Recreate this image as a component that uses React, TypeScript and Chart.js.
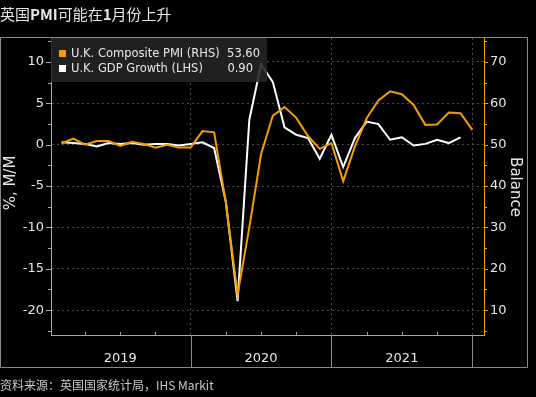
import React, { useEffect, useRef } from 'react';
import { Chart, registerables } from 'chart.js';

Chart.register(...registerables);

// ---------- data ----------
const TITLE_PARTS = [
  { t: '英国', bold: false },
  { t: 'PMI', bold: true },
  { t: '可能在', bold: false },
  { t: '1', bold: true },
  { t: '月份上升', bold: false },
];
const SOURCE = '资料来源：英国国家统计局，IHS Markit';

const PMI_MONTHS = [
  '2019-01', '2019-02', '2019-03', '2019-04', '2019-05', '2019-06', '2019-07', '2019-08', '2019-09', '2019-10', '2019-11', '2019-12',
  '2020-01', '2020-02', '2020-03', '2020-04', '2020-05', '2020-06', '2020-07', '2020-08', '2020-09', '2020-10', '2020-11', '2020-12',
  '2021-01', '2021-02', '2021-03', '2021-04', '2021-05', '2021-06', '2021-07', '2021-08', '2021-09', '2021-10', '2021-11', '2021-12',
];
const PMI_VALUES = [
  50.3, 51.5, 50.0, 50.9, 50.9, 49.7, 50.7, 50.2, 49.3, 50.0, 49.3, 49.3,
  53.3, 53.0, 36.0, 13.8, 30.0, 47.7, 57.0, 59.1, 56.5, 52.1, 49.0, 50.4,
  41.2, 49.6, 56.4, 60.7, 62.9, 62.2, 59.6, 54.8, 54.9, 57.8, 57.6, 53.6,
];

const GDP_MONTHS = [
  '2019-01', '2019-02', '2019-03', '2019-04', '2019-05', '2019-06', '2019-07', '2019-08', '2019-09', '2019-10', '2019-11', '2019-12',
  '2020-01', '2020-02', '2020-03', '2020-04', '2020-05', '2020-06', '2020-07', '2020-08', '2020-09', '2020-10', '2020-11', '2020-12',
  '2021-01', '2021-02', '2021-03', '2021-04', '2021-05', '2021-06', '2021-07', '2021-08', '2021-09', '2021-10', '2021-11',
];
const GDP_VALUES = [
  0.3, 0.2, 0.1, -0.2, 0.2, 0.1, 0.2, 0.0, 0.1, 0.1, -0.1, 0.1,
  0.3, -0.4, -6.9, -18.9, 3.0, 9.7, 7.6, 2.1, 1.2, 0.8, -1.7, 1.2,
  -2.7, 0.8, 2.8, 2.5, 0.6, 0.9, -0.1, 0.1, 0.6, 0.2, 0.9,
];

const LEGEND_NAMES = ['U.K. Composite PMI (RHS)', 'U.K. GDP Growth (LHS)'];
const LEGEND_VALUES = ['53.60', '0.90'];
const LEFT_TITLE = '%, M/M';
const RIGHT_TITLE = 'Balance';

const YEAR_LABELS = ['2019', '2020', '2021'];
const LHS_TICKS = [-20, -15, -10, -5, 0, 5, 10];
const RHS_TICKS = [10, 20, 30, 40, 50, 60, 70];

// ---------- style ----------
const ORANGE = '#f59c00';
const WHITE = '#ffffff';
const AXIS_GRAY = '#a8a8a8';
const FRAME_GRAY = '#8a8a8a';
const GRID = '#4a4a4a';
const FONT = '"DejaVu Sans", sans-serif';
const CJK = '"Noto Sans CJK SC", sans-serif';

// month "YYYY-MM" -> month-end position (months since start of 2019)
const monthPos = (m: string) => {
  const [y, mo] = m.split('-').map(Number);
  return (y - 2019) * 12 + mo;
};

const framePlugin = {
  id: 'framePlugin',
  beforeDraw(chart: any) {
    const { ctx, width, height } = chart;
    ctx.save();
    ctx.fillStyle = '#000';
    ctx.fillRect(0, 0, width, height);
    ctx.restore();
  },
  afterDatasetsDraw(chart: any) {
    const { ctx, chartArea } = chart;
    const x = chart.scales.x;
    const y = chart.scales.y;
    const y1 = chart.scales.y1;
    ctx.save();

    // frame
    ctx.strokeStyle = FRAME_GRAY;
    ctx.lineWidth = 1;
    ctx.beginPath();
    ctx.moveTo(0.5, 37.5);
    ctx.lineTo(527.5, 37.5);
    ctx.lineTo(527.5, 367.5);
    ctx.lineTo(0.5, 367.5);
    ctx.closePath();
    ctx.stroke();

    // year band separators
    ctx.strokeStyle = FRAME_GRAY;
    [12, 24, 36].forEach((v) => {
      const px = Math.round(x.getPixelForValue(v)) + 0.5;
      ctx.beginPath();
      ctx.moveTo(px, chartArea.bottom);
      ctx.lineTo(px, 367.5);
      ctx.stroke();
    });

    // left axis ticks
    ctx.strokeStyle = AXIS_GRAY;
    for (let v = -22.5; v <= 12.5; v += 2.5) {
      const py = Math.round(y.getPixelForValue(v)) + 0.5;
      const major = v % 5 === 0;
      ctx.beginPath();
      ctx.moveTo(chartArea.left - (major ? 5 : 3), py);
      ctx.lineTo(chartArea.left, py);
      ctx.stroke();
    }
    // right axis ticks
    ctx.strokeStyle = ORANGE;
    for (let v = 5; v <= 75; v += 5) {
      const py = Math.round(y1.getPixelForValue(v)) + 0.5;
      const major = v % 10 === 0;
      ctx.beginPath();
      ctx.moveTo(chartArea.right, py);
      ctx.lineTo(chartArea.right + (major ? 4 : 3), py);
      ctx.stroke();
    }
    // bottom quarterly ticks
    ctx.strokeStyle = AXIS_GRAY;
    for (let v = 3; v <= 36; v += 3) {
      if (v % 12 === 0) continue;
      const px = Math.round(x.getPixelForValue(v)) + 0.5;
      ctx.beginPath();
      ctx.moveTo(px, chartArea.bottom);
      ctx.lineTo(px, chartArea.bottom - 3);
      ctx.stroke();
    }

    // legend box
    ctx.fillStyle = 'rgba(36,36,36,0.88)';
    ctx.fillRect(chartArea.left, chartArea.top, 216, 44);
    ctx.font = `11.5px ${FONT}`;
    ctx.textBaseline = 'middle';
    const rows = [
      { c: ORANGE, y: 54, vx: 260 },
      { c: WHITE, y: 69, vx: 253 },
    ];
    rows.forEach((r, i) => {
      ctx.fillStyle = r.c;
      ctx.fillRect(59, r.y - 4, 7, 7);
      ctx.fillStyle = '#e8e8e8';
      ctx.textAlign = 'left';
      ctx.fillText(LEGEND_NAMES[i], 71, r.y);
      ctx.textAlign = 'right';
      ctx.fillText(LEGEND_VALUES[i], r.vx, r.y);
    });

    ctx.restore();
  },
  afterDraw(chart: any) {
    const { ctx } = chart;
    ctx.save();
    // title
    ctx.textBaseline = 'middle';
    ctx.textAlign = 'left';
    ctx.fillStyle = '#e6e6e6';
    let tx = 0;
    TITLE_PARTS.forEach((p) => {
      ctx.font = `${p.bold ? 'bold ' : ''}15px ${CJK}`;
      ctx.fillText(p.t, tx, 14);
      tx += ctx.measureText(p.t).width;
    });
    // source
    ctx.font = `12px ${CJK}`;
    ctx.fillStyle = '#c8c8c8';
    ctx.fillText(SOURCE, 0, 385);

    // axis titles
    ctx.fillStyle = '#e6e6e6';
    ctx.font = `15px ${FONT}`;
    ctx.textAlign = 'center';
    ctx.save();
    ctx.translate(11, 183);
    ctx.rotate(-Math.PI / 2);
    ctx.fillText(LEFT_TITLE, 0, 0);
    ctx.restore();
    ctx.save();
    ctx.translate(515, 187);
    ctx.rotate(Math.PI / 2);
    ctx.fillText(RIGHT_TITLE, 0, 0);
    ctx.restore();

    ctx.restore();
  },
};

export default function App() {
  const ref = useRef<HTMLCanvasElement | null>(null);

  useEffect(() => {
    document.body.style.margin = '0';
    document.body.style.background = '#000';
    if (!ref.current) return;
    const chart = new Chart(ref.current, {
      type: 'line',
      data: {
        datasets: [
          {
            label: LEGEND_NAMES[0],
            data: PMI_MONTHS.map((m, i) => ({ x: monthPos(m), y: PMI_VALUES[i] })),
            borderColor: ORANGE,
            borderWidth: 2,
            pointRadius: 0,
            tension: 0,
            yAxisID: 'y1',
          },
          {
            label: LEGEND_NAMES[1],
            data: GDP_MONTHS.map((m, i) => ({ x: monthPos(m), y: GDP_VALUES[i] })),
            borderColor: WHITE,
            borderWidth: 2,
            pointRadius: 0,
            tension: 0,
            yAxisID: 'y',
          },
        ],
      },
      options: {
        responsive: false,
        animation: false,
        devicePixelRatio: 1,
        layout: { padding: { top: 38, left: 0, right: 0, bottom: 0 } },
        plugins: { legend: { display: false }, tooltip: { enabled: false }, title: { display: false } },
        scales: {
          x: {
            type: 'linear',
            min: 0.1,
            max: 37.0,
            afterFit: (s: any) => { s.height = 62; },
            afterBuildTicks: (s: any) => {
              s.ticks = [6, 12, 18, 24, 30, 36].map((v) => ({ value: v }));
            },
            ticks: {
              autoSkip: false,
              maxRotation: 0,
              padding: 16,
              color: '#e6e6e6',
              font: { family: 'DejaVu Sans', size: 13 },
              callback: (v: any) => (Number(v) % 12 === 6 ? YEAR_LABELS[(Number(v) - 6) / 12] : ''),
            },
            grid: {
              drawTicks: false,
              color: (c: any) => (c.tick && c.tick.value % 12 === 0 ? GRID : 'rgba(0,0,0,0)'),
              lineWidth: 1,
            },
            border: { display: true, color: AXIS_GRAY, width: 1, dash: [2, 3] },
          },
          y: {
            position: 'left',
            min: -23,
            max: 12.9,
            afterFit: (s: any) => { s.width = 51; },
            afterBuildTicks: (s: any) => {
              s.ticks = LHS_TICKS.map((v) => ({ value: v }));
            },
            ticks: {
              padding: 7,
              color: '#e6e6e6',
              font: { family: 'DejaVu Sans', size: 13 },
            },
            grid: { drawTicks: false, color: GRID, lineWidth: 1 },
            border: { display: true, color: AXIS_GRAY, width: 1, dash: [2, 3] },
          },
          y1: {
            position: 'right',
            min: 4,
            max: 75.8,
            afterFit: (s: any) => { s.width = 52; },
            afterBuildTicks: (s: any) => {
              s.ticks = RHS_TICKS.map((v) => ({ value: v }));
            },
            ticks: {
              padding: 6,
              color: '#e6e6e6',
              font: { family: 'DejaVu Sans', size: 13 },
            },
            grid: { drawTicks: false, drawOnChartArea: false },
            border: { display: true, color: ORANGE, width: 1 },
          },
        },
      },
      plugins: [framePlugin],
    });
    return () => chart.destroy();
  }, []);

  return (
    <div style={{ width: 536, height: 397, background: '#000' }}>
      <canvas ref={ref} width={536} height={397} style={{ display: 'block' }} />
    </div>
  );
}
